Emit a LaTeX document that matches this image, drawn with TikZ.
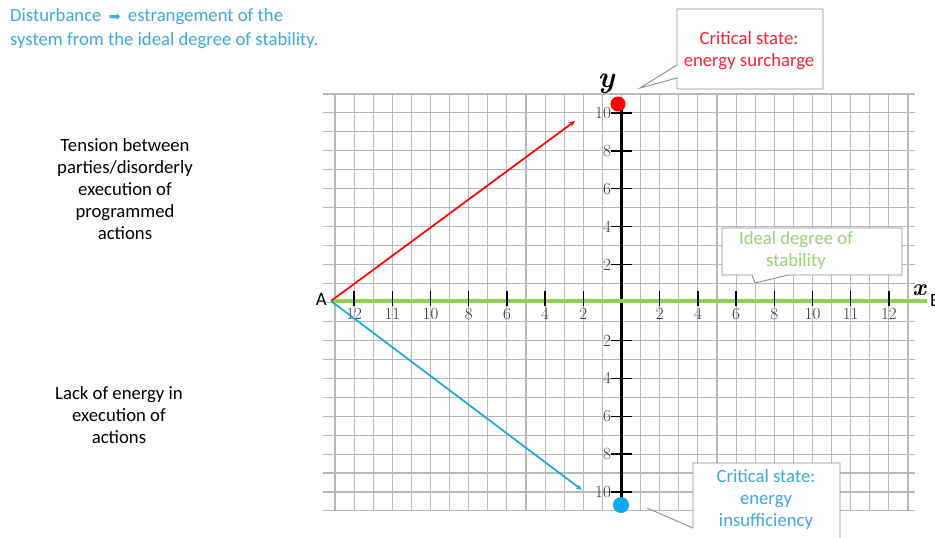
\documentclass[tikz,border=0pt]{standalone}
\usepackage{fontspec}
\setmainfont{Carlito}
\newfontfamily\symfont{DejaVu Sans}
\newfontfamily\handfont{Latin Modern Roman}
\usetikzlibrary{arrows.meta}
\definecolor{gridgray}{HTML}{B8B8B8}
\definecolor{titleblue}{HTML}{3FA9DB}
\definecolor{arrowblue}{HTML}{1AA7DE}
\definecolor{dotblue}{HTML}{0AAAF0}
\definecolor{stabgreen}{HTML}{92D050}
\definecolor{labgreen}{HTML}{9BCF7A}
\definecolor{critred}{HTML}{F02638}
\definecolor{boxgray}{HTML}{8C8C8C}
\definecolor{handgray}{HTML}{383838}
\begin{document}
\begin{tikzpicture}[x=1bp,y=-1bp,
  gridline/.style={gridgray, line width=1.1bp},
  txt/.style={font=\fontsize{18.7bp}{22bp}\selectfont, align=center, inner sep=0pt},
  callout/.style={draw=boxgray, line width=0.9bp, fill=white},
  hand/.style={font=\handfont\fontsize{17bp}{17bp}\selectfont, text=handgray, inner sep=1pt},
  tickline/.style={black, line width=1.3bp},
  vecarrow/.style={line width=1.7bp, -{Stealth[length=6bp,width=5bp]}}]
\useasboundingbox (0,0) rectangle (935,538);
\fill[white] (0,0) rectangle (935,538);

% grid
\foreach \i in {0,...,30}
  \draw[gridline] ({335+19.1*\i},94) -- ({335+19.1*\i},511);
\foreach \j in {0,...,22}
  \draw[gridline] (323,{94+18.95*\j}) -- (915,{94+18.95*\j});

% y axis
\coordinate (ytop) at (621.5,104);
\coordinate (ybot) at (621.5,503);
\draw[black, line width=2.2bp] (ytop) -- (ybot);
\foreach \v in {2,4,6,8,10}{
  \draw[tickline] (611,{302.5-18.95*\v}) -- (632,{302.5-18.95*\v});
  \node[hand, anchor=east] at (612,{302.5-18.95*\v}) {\v};
  \draw[tickline] (611,{302.5+18.95*\v}) -- (632,{302.5+18.95*\v});
  \node[hand, anchor=east] at (612,{302.5+18.95*\v}) {\v};
}

% x axis (green)
\coordinate (A) at (331,301);
\coordinate (Bend) at (927,301);
\draw[stabgreen, line width=4bp] (A) -- (Bend);
\foreach \k/\lab in {1/2,2/4,3/6,4/8,5/10,6/11,7/12}{
  \draw[tickline] ({621.5-38.2*\k},291) -- ({621.5-38.2*\k},306);
  \node[hand, anchor=north] at ({621.5-38.2*\k},307) {\lab};
  \draw[tickline] ({621.5+38.2*\k},291) -- ({621.5+38.2*\k},306);
  \node[hand, anchor=north] at ({621.5+38.2*\k},307) {\lab};
}

% axis letters
\node[font=\handfont\fontsize{30bp}{30bp}\selectfont\itshape\bfseries, inner sep=0pt] (ylab) at (606,84) {y};
\node[font=\handfont\fontsize{24bp}{24bp}\selectfont\itshape\bfseries, inner sep=0pt] (xlab) at (919,290) {x};
\node[txt, anchor=west] (Blab) at (930,301) {B};
\node[txt, anchor=east] (Alab) at (327,300) {A};

% vectors
\coordinate (redend) at (575,121);
\coordinate (blueend) at (582,490);
\draw[vecarrow, red] (A) -- (redend);
\draw[vecarrow, arrowblue] (A) -- (blueend);

% dots
\node[circle, fill=red, minimum size=15bp, inner sep=0pt] (reddot) at (618,104) {};
\node[circle, fill=dotblue, minimum size=16bp, inner sep=0pt] (bluedot) at (621,505) {};

% callouts
\draw[callout] (677,9) -- (823,9) -- (823,89) -- (677,89) -- (677,78) -- (640,88) -- (677,65) -- cycle;
\node[txt, text=critred] (crit1) at (749,51) {Critical state:\\energy surcharge};

\draw[callout] (722,228) -- (902,228) -- (902,275) -- (788,275) -- (755,283) -- (752,275) -- (722,275) -- cycle;
\node[txt, text=labgreen] (ideal) at (796,251) {Ideal degree of\\stability};

\fill[white] (693,463) rectangle (840,545);
\draw[boxgray, line width=0.9bp] (840,545) -- (840,463) -- (693,463) -- (693,528) -- (647,508);
\node[txt, text=titleblue] (crit2) at (766,500) {Critical state:\\energy\\insufficiency};

% left texts
\node[txt] (tension) at (125,189) {Tension between\\parties/disorderly\\execution of\\programmed\\actions};
\node[txt] (lack) at (119,415) {Lack of energy in\\execution of\\actions};

% title
\node[txt, align=left, anchor=north west, text=titleblue, font=\fontsize{18.7bp}{24bp}\selectfont] (title) at (10,8)
  {Disturbance \,{\symfont\fontsize{14bp}{14bp}\selectfont ➡}\, estrangement of the\\system from the ideal degree of stability.};
\end{tikzpicture}
\end{document}
